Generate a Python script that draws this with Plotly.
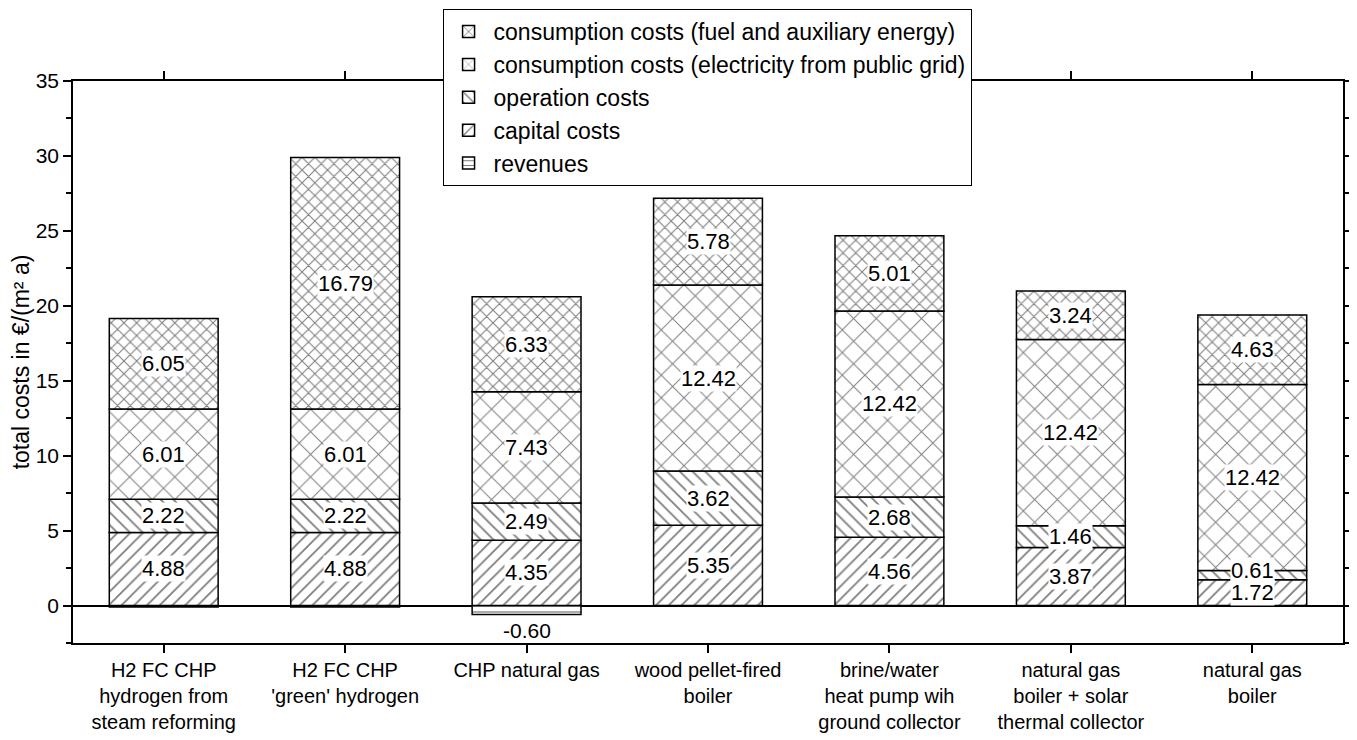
import plotly.graph_objects as go

categories = [
    "H2 FC CHP<br>hydrogen from<br>steam reforming",
    "H2 FC CHP<br>'green' hydrogen",
    "CHP natural gas",
    "wood pellet-fired<br>boiler",
    "brine/water<br>heat pump wih<br>ground collector",
    "natural gas<br>boiler + solar<br>thermal collector",
    "natural gas<br>boiler",
]
capital = [4.88, 4.88, 4.35, 5.35, 4.56, 3.87, 1.72]
operation = [2.22, 2.22, 2.49, 3.62, 2.68, 1.46, 0.61]
electricity = [6.01, 6.01, 7.43, 12.42, 12.42, 12.42, 12.42]
fuel = [6.05, 16.79, 6.33, 5.78, 5.01, 3.24, 4.63]
revenues = [-0.10, -0.10, -0.60, 0.0, 0.0, 0.0, 0.0]

names = {
    "rev": "revenues",
    "cap": "capital costs",
    "op": "operation costs",
    "el": "consumption costs (electricity from public grid)",
    "fu": "consumption costs (fuel and auxiliary energy)",
}

FONT = "Liberation Sans, Arial, sans-serif"
x_idx = list(range(len(categories)))

def bar(vals, name, shape, size, solidity):
    return go.Bar(
        x=x_idx, y=vals, name=name, width=0.6,
        marker=dict(
            color="white",
            line=dict(color="black", width=1.5),
            pattern=dict(shape=shape, size=size, solidity=solidity,
                         fgcolor="black", bgcolor="white", fillmode="overlay"),
        ),
        hoverinfo="y+name",
    )

fig = go.Figure()
fig.add_trace(bar(revenues, names["rev"], "-", 6, 0.22))
fig.add_trace(bar(capital, names["cap"], "/", 9, 0.2))
fig.add_trace(bar(operation, names["op"], "\\", 9, 0.2))
fig.add_trace(bar(electricity, names["el"], "x", 16, 0.12))
fig.add_trace(bar(fuel, names["fu"], "x", 9, 0.22))

annotations = []
for i in x_idx:
    base = 0.0
    for seg in (capital, operation, electricity, fuel):
        v = seg[i]
        annotations.append(dict(
            x=i, y=base + v / 2, xref="x", yref="y", text=f"{v:.2f}",
            showarrow=False, bgcolor="white", borderpad=0,
            yshift=5 if v < 1 else 0,
            font=dict(family=FONT, size=22, color="black"),
        ))
        base += v
    r = revenues[i]
    if r <= -0.3:
        annotations.append(dict(
            x=i, y=r, xref="x", yref="y", text=f"{r:.2f}",
            showarrow=False, yanchor="top", yshift=-2,
            font=dict(family=FONT, size=21, color="black"),
        ))

# the page body has an 8 px margin; size the figure so the plot area lands
# where the reference puts it
fig.update_layout(
    barmode="relative",
    width=1349, height=732,
    margin=dict(l=65, r=14, t=73, b=97, autoexpand=False),
    paper_bgcolor="white", plot_bgcolor="white",
    font=dict(family=FONT, size=22, color="black"),
    annotations=annotations,
    showlegend=True,
    legend=dict(
        x=0.291, xanchor="left",
        y=1.128, yanchor="top",
        bgcolor="white", bordercolor="black", borderwidth=1,
        traceorder="reversed", font=dict(family=FONT, size=23),
        tracegroupgap=0, itemwidth=40,
    ),
)

fig.update_xaxes(
    range=[-0.5, 6.5],
    tickmode="array", tickvals=x_idx, ticktext=categories,
    showline=True, linecolor="black", linewidth=1.5, mirror="allticks",
    ticks="outside", ticklen=8, tickwidth=1.5, tickcolor="black",
    showgrid=False, zeroline=False, automargin=False,
    tickfont=dict(family=FONT, size=20),
)
fig.update_yaxes(
    range=[-2.5, 35],
    tickmode="linear", tick0=0, dtick=5,
    showline=True, linecolor="black", linewidth=1.5, mirror="allticks",
    ticks="outside", ticklen=8, tickwidth=1.5, tickcolor="black",
    minor=dict(ticks="outside", ticklen=5, tickwidth=1.5, tickcolor="black", dtick=2.5, tick0=0),
    showgrid=False, automargin=False,
    zeroline=True, zerolinecolor="black", zerolinewidth=1.5,
    tickfont=dict(family=FONT, size=21),
    title=dict(text="total costs in €/(m² a)", font=dict(family=FONT, size=23), standoff=6),
)

fig.write_html("out.html")
